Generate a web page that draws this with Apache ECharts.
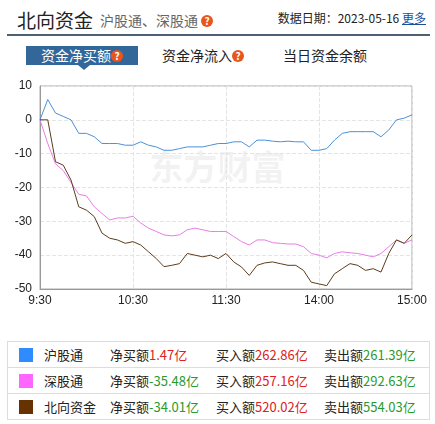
<!DOCTYPE html>
<html>
<head>
<meta charset="utf-8">
<script src="https://cdn.jsdelivr.net/npm/echarts@6/dist/echarts.min.js"></script>
<style>
    body { margin: 0; width: 435px; height: 424px; background: #fff; font-family: "Microsoft YaHei", "Noto Sans CJK SC", sans-serif; position: relative; overflow: hidden; }
    .title { position: absolute; left: 17px; top: 6px; font-size: 19px; color: #222; }
    .sub { position: absolute; left: 100px; top: 10px; font-size: 14px; color: #666; }
    .q { display: inline-block; width: 12px; height: 12px; border-radius: 6px; background: #e8561b; color: #fff; font-size: 10px; line-height: 12px; text-align: center; font-weight: bold; vertical-align: 1px; }
    .date { position: absolute; right: 9px; top: 9px; font-size: 12px; color: #222; }
    .date a { color: #1a4f99; text-decoration: underline; }
    .bar { position: absolute; left: 7px; right: 5px; top: 34px; height: 2px; background: #4d6175; }
    .tab { position: absolute; top: 46px; font-size: 14px; color: #222; height: 19px; line-height: 19px; }
    .tab.on { left: 26px; width: 112px; background: #336699; color: #fff; text-align: center; }
    .tri { position: absolute; left: 78px; top: 65px; width: 0; height: 0; border-left: 6px solid transparent; border-right: 6px solid transparent; border-top: 5px solid #336699; }
    #chart { position: absolute; left: 0; top: 70px; width: 435px; height: 270px; }
    table { position: absolute; left: 7px; top: 341px; width: 423px; border-collapse: collapse; font-size: 13px; color: #222; border: 1px solid #ddd; }
    td { border: 1px solid #ddd; border-left: none; border-right: none; height: 25px; padding: 0; }
    .sw { display: inline-block; width: 14px; height: 14px; vertical-align: -2px; margin-left: 11px; }
    .r { color: #e02020; } .g { color: #2a9a2a; }
</style>
</head>
<body>
<div class="title">北向资金</div>
<div class="sub">沪股通、深股通 <span class="q">?</span></div>
<div class="date">数据日期：2023-05-16 <a>更多</a></div>
<div class="bar"></div>
<div class="tab on">资金净买额<span class="q">?</span></div>
<div class="tri"></div>
<div class="tab" style="left:162px">资金净流入<span class="q">?</span></div>
<div class="tab" style="left:283px">当日资金余额</div>
<div id="chart"></div>
<table>
    <tr><td style="width:36px"><span class="sw" style="background:#2f8cff"></span></td><td style="width:66px">沪股通</td><td style="width:106px">净买额<span class="r">1.47亿</span></td><td style="width:108px">买入额<span class="r">262.86亿</span></td><td>卖出额<span class="g">261.39亿</span></td></tr>
    <tr><td><span class="sw" style="background:#ff66ff"></span></td><td>深股通</td><td>净买额<span class="g">-35.48亿</span></td><td>买入额<span class="r">257.16亿</span></td><td>卖出额<span class="g">292.63亿</span></td></tr>
    <tr><td><span class="sw" style="background:#663300"></span></td><td>北向资金</td><td>净买额<span class="g">-34.01亿</span></td><td>买入额<span class="r">520.02亿</span></td><td>卖出额<span class="g">554.03亿</span></td></tr>
</table>
<script>
// 5-minute samples, 9:30-11:30 then 13:00-15:00
var times = [];
(function () {
    var m;
    for (m = 570; m <= 690; m += 5) times.push(Math.floor(m / 60) + ':' + ('0' + m % 60).slice(-2));
    for (m = 785; m <= 900; m += 5) times.push(Math.floor(m / 60) + ':' + ('0' + m % 60).slice(-2));
})();
var xLabels = { 0: '9:30', 12: '10:30', 24: '11:30', 36: '14:00', 48: '15:00' };

var hgt = [0, 6, 2, 1, 0, -4, -4, -5, -7, -7, -7, -7.5, -7.5, -6.5, -7.5, -8, -9, -9, -8.5, -8, -8, -8, -7.5, -7, -7,
    -6.5, -6.5, -8, -6, -6, -6.3, -6.5, -6.3, -6.5, -6.5, -9, -9, -8.5, -6, -4, -3.5, -3.5, -3.5, -3.5, -5, -3, 0, 0.5, 1.47];
var sgt = [0, -7, -13, -15, -18.5, -22, -22.5, -25.7, -27.7, -29.6, -29, -29, -28.5, -30.5, -32, -33, -34, -34.3, -34, -32.5, -32, -32.5, -33, -33, -33,
    -34.5, -36, -37, -35.5, -35.5, -36.3, -36.5, -36.7, -36.7, -37.5, -39.5, -40, -40.8, -39.5, -39, -39.3, -39.5, -40, -40.5, -39.5, -37.5, -35.5, -36.5, -35.48];
var north = [0, 0, -12.4, -13.4, -17.8, -25.7, -26.7, -28.6, -33.5, -35, -35.5, -36.5, -36, -37, -39, -41, -43.4, -43, -42.5, -39.5, -40, -40.5, -40, -41, -39.5,
    -42, -43.5, -46, -43, -42.3, -42, -42.5, -43, -43, -44.5, -48, -48.5, -49, -45.5, -44, -42.5, -43, -44.5, -44, -45, -39.5, -35.5, -36.5, -34.01];

var showIdx = function (i) { return xLabels[i] !== undefined; };
var mychart = echarts.init(document.getElementById('chart'));
mychart.setOption({
    animation: false,
    grid: { left: 40, right: 23, top: 16, bottom: 51, show: true, borderColor: '#aaa', borderWidth: 1 },
    graphic: [{
        type: 'text', left: 'center', top: 80,
        style: { text: '东方财富', fontSize: 34, fontWeight: 'bold', fill: 'rgba(0,0,0,0.05)', fontFamily: 'Noto Sans CJK SC' }
    }],
    xAxis: {
        type: 'category', data: times, boundaryGap: false,
        axisLine: { onZero: false, lineStyle: { color: '#999' } },
        axisTick: { show: false },
        axisLabel: { interval: showIdx, formatter: function (v, i) { return xLabels[i]; }, color: '#222', fontSize: 12, margin: 6 },
        splitLine: { show: true, interval: showIdx, lineStyle: { color: '#e4e4e4', type: 'dashed' } }
    },
    yAxis: {
        type: 'value', min: -50, max: 10, interval: 10,
        axisLine: { show: true, lineStyle: { color: '#999' } },
        axisTick: { show: false },
        axisLabel: { color: '#222', fontSize: 12, margin: 8 },
        splitLine: { lineStyle: { color: '#e4e4e4', type: 'dashed' } }
    },
    series: [
        { name: '沪股通', type: 'line', data: hgt, symbol: 'none', lineStyle: { width: 1, color: '#4a90d9' } },
        { name: '深股通', type: 'line', data: sgt, symbol: 'none', lineStyle: { width: 1, color: '#e67ee6' } },
        { name: '北向资金', type: 'line', data: north, symbol: 'none', lineStyle: { width: 1, color: '#5c3c1c' } }
    ]
});
</script>
</body>
</html>
